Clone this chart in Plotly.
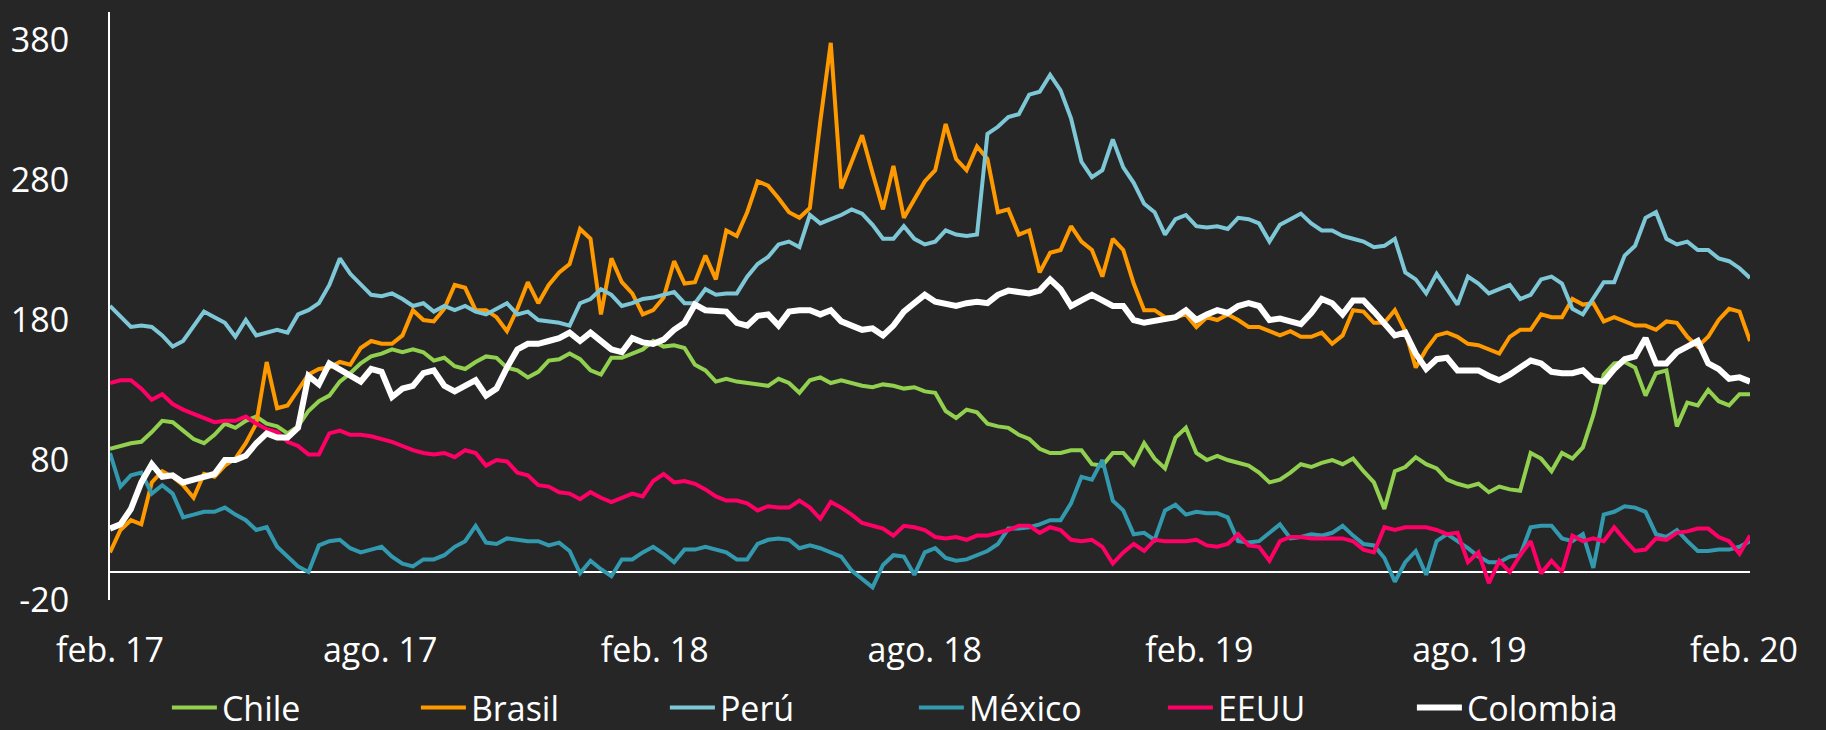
import pandas as pd
import plotly.graph_objects as go

# weekly observations starting 1 Feb 2017
start_date = "2017-02-01"
n_points = 158

chile = [88,90,92,93,100,108,107,101,95,92,98,106,103,108,111,106,104,99,104,115,122,126,136,142,149,154,
         156,
         159,157,159,157,151,153,147,145,150,154,153,146,144,139,143,151,152,156,152,144,141,153,153,156,159,165,
         161,
         162,160,148,144,136,138,136,135,134,133,138,135,128,137,139,135,137,135,133,132,134,133,131,132,129,
         128,
         115,110,116,114,106,104,103,98,95,88,85,85,87,87,77,76,85,85,77,92,81,74,96,103,85,
         80,
         83,80,78,76,71,64,66,71,77,75,78,80,77,81,72,64,45,72,75,82,77,74,66,63,61,
         63,
         57,61,59,58,85,81,72,85,81,89,112,141,149,150,146,126,142,144,104,121,119,130,122,119,127,127]

brasil = [14,30,37,34,64,72,68,62,53,70,68,76,81,92,106,150,117,119,130,141,145,146,150,148,160,165,
          163,
          163,169,187,180,179,188,205,203,187,187,182,172,188,207,192,205,214,220,245,238,184,224,207,199,184,187,
          196,
          222,206,207,226,209,244,240,257,279,276,267,257,253,260,322,378,274,293,312,285,259,290,253,266,279,
          287,
          320,295,287,304,295,257,259,241,244,214,228,230,247,236,230,211,238,230,206,187,187,182,182,184,175,
          182,
          180,184,180,175,175,172,169,172,168,168,171,163,169,187,186,178,178,187,172,146,159,169,171,168,163,
          162,
          159,156,168,173,173,184,182,182,195,191,192,179,182,179,176,176,173,179,178,168,161,168,180,188,186,165]

peru = [190,182,175,176,175,169,161,165,176,186,182,178,168,180,169,171,173,171,184,187,192,205,224,213,205,198,
        197,
        199,195,190,192,186,190,187,190,186,184,188,192,184,186,180,179,178,176,192,195,202,198,190,192,195,196,
        198,
        200,192,192,202,198,199,199,211,220,225,234,236,232,255,249,252,255,259,256,248,238,238,247,238,234,
        236,
        244,241,240,241,313,318,325,327,341,343,355,344,324,293,282,287,309,289,278,263,257,241,252,255,247,
        246,
        247,245,253,252,249,236,248,252,256,249,244,244,240,238,236,232,233,238,214,209,199,213,202,191,211,
        206,
        199,202,205,195,198,209,211,206,188,184,196,207,207,226,233,253,257,238,234,236,230,230,224,222,217,210]

mexico = [85,61,69,71,56,62,56,39,41,43,43,46,41,37,30,32,18,11,4,0,19,22,23,17,14,16,
          18,
          11,6,4,9,9,12,18,22,33,21,20,24,23,22,22,19,21,15,-1,8,2,-3,9,9,14,18,
          13,
          7,16,16,18,16,14,9,9,20,23,24,23,17,19,17,14,11,1,-5,-11,5,12,11,-2,14,
          17,
          10,8,9,12,15,20,31,31,32,34,37,37,49,68,66,80,51,44,27,28,23,44,48,41,43,
          42,
          42,39,22,21,22,28,34,24,25,27,26,28,33,26,20,19,10,-7,7,15,-2,22,27,22,17,
          11,
          7,7,11,12,32,33,33,24,22,27,3,41,43,47,46,43,27,25,30,22,15,15,16,16,18,22]

eeuu = [135,137,137,131,123,127,120,116,113,110,107,108,108,111,106,102,100,93,90,84,84,99,101,98,98,97,
        95,
        93,90,87,85,84,85,82,87,85,76,80,79,71,69,62,61,57,56,52,57,53,50,53,56,54,65,
        70,
        64,65,63,59,54,51,51,49,44,47,46,46,51,46,38,50,46,41,35,33,31,26,33,32,30,
        25,
        24,25,23,26,26,28,30,33,33,28,32,30,23,22,23,18,6,14,20,15,23,22,22,22,23,
        19,
        18,20,27,19,18,8,22,25,25,24,24,24,24,22,16,14,32,30,32,32,32,30,27,28,7,
        14,
        -8,8,0,12,22,-1,8,0,26,22,24,22,32,23,15,16,24,23,28,29,31,31,25,22,13,26]

colombia = [31,34,45,64,77,68,69,64,66,68,70,80,80,83,92,99,96,96,103,140,134,149,145,141,136,145,
            143,
            125,131,133,142,144,133,129,133,137,126,131,146,159,163,163,165,167,171,165,171,165,159,157,167,164,163,
            166,
            173,178,191,187,187,186,178,176,183,184,176,186,187,187,184,187,179,176,173,174,169,176,186,192,198,
            193,
            192,190,192,193,192,198,201,200,199,201,209,202,190,194,198,194,190,190,180,178,179,180,182,187,180,
            184,
            187,185,190,192,190,180,181,179,177,185,195,192,184,194,194,186,178,169,171,156,145,152,153,144,144,
            144,
            140,137,141,146,151,149,143,142,142,144,137,136,145,152,154,167,149,149,157,161,165,149,145,138,139,136]

tick_dates = ["2017-02-01", "2017-08-01", "2018-02-01", "2018-08-01",
              "2019-02-01", "2019-08-01", "2020-02-01"]
tick_labels = ["feb. 17", "ago. 17", "feb. 18", "ago. 18", "feb. 19", "ago. 19", "feb. 20"]
y_ticks = [-20, 80, 180, 280, 380]
y_tick_labels = ["-20", "80", "180", "280", "380"]

dates = pd.date_range(start_date, periods=n_points, freq="7D")

series = [
    ("Chile", chile, "#92D050", 4),
    ("Brasil", brasil, "#FF9900", 4),
    ("Perú", peru, "#7DC7D7", 4),
    ("México", mexico, "#3399AF", 4),
    ("EEUU", eeuu, "#FF0066", 4),
    ("Colombia", colombia, "#FFFFFF", 6),
]

fig = go.Figure()
for name, vals, color, w in series:
    fig.add_trace(go.Scatter(x=dates, y=vals, mode="lines", name=name,
                             line=dict(color=color, width=w)))

fig.update_layout(
    width=1826, height=730,
    paper_bgcolor="#262626", plot_bgcolor="#262626",
    margin=dict(l=110, r=76, t=12, b=130, autoexpand=False),
    font=dict(family="Open Sans", color="white", size=34),
    legend=dict(orientation="h", x=0.0347, xanchor="left", y=-0.1835, yanchor="middle",
                entrywidth=189, entrywidthmode="pixels", itemwidth=45,
                font=dict(size=34, color="white"), bgcolor="rgba(0,0,0,0)"),
)
fig.update_xaxes(type="date", range=[dates[0], dates[-1]],
                 tickvals=tick_dates, ticktext=tick_labels,
                 showgrid=False, showline=False, zeroline=False, automargin=False,
                 ticks="outside", ticklen=20, tickcolor="rgba(0,0,0,0)")
fig.update_yaxes(range=[-20, 400], tickvals=y_ticks, ticktext=y_tick_labels,
                 showgrid=False, showline=True, linecolor="white", linewidth=2,
                 zeroline=True, zerolinecolor="white", zerolinewidth=2, automargin=False,
                 ticks="outside", ticklen=32, tickcolor="rgba(0,0,0,0)")

fig.write_html(
    "out.html",
    config={"displayModeBar": False},
    post_script="document.body.style.margin='0';document.body.style.background='#262626';",
)
